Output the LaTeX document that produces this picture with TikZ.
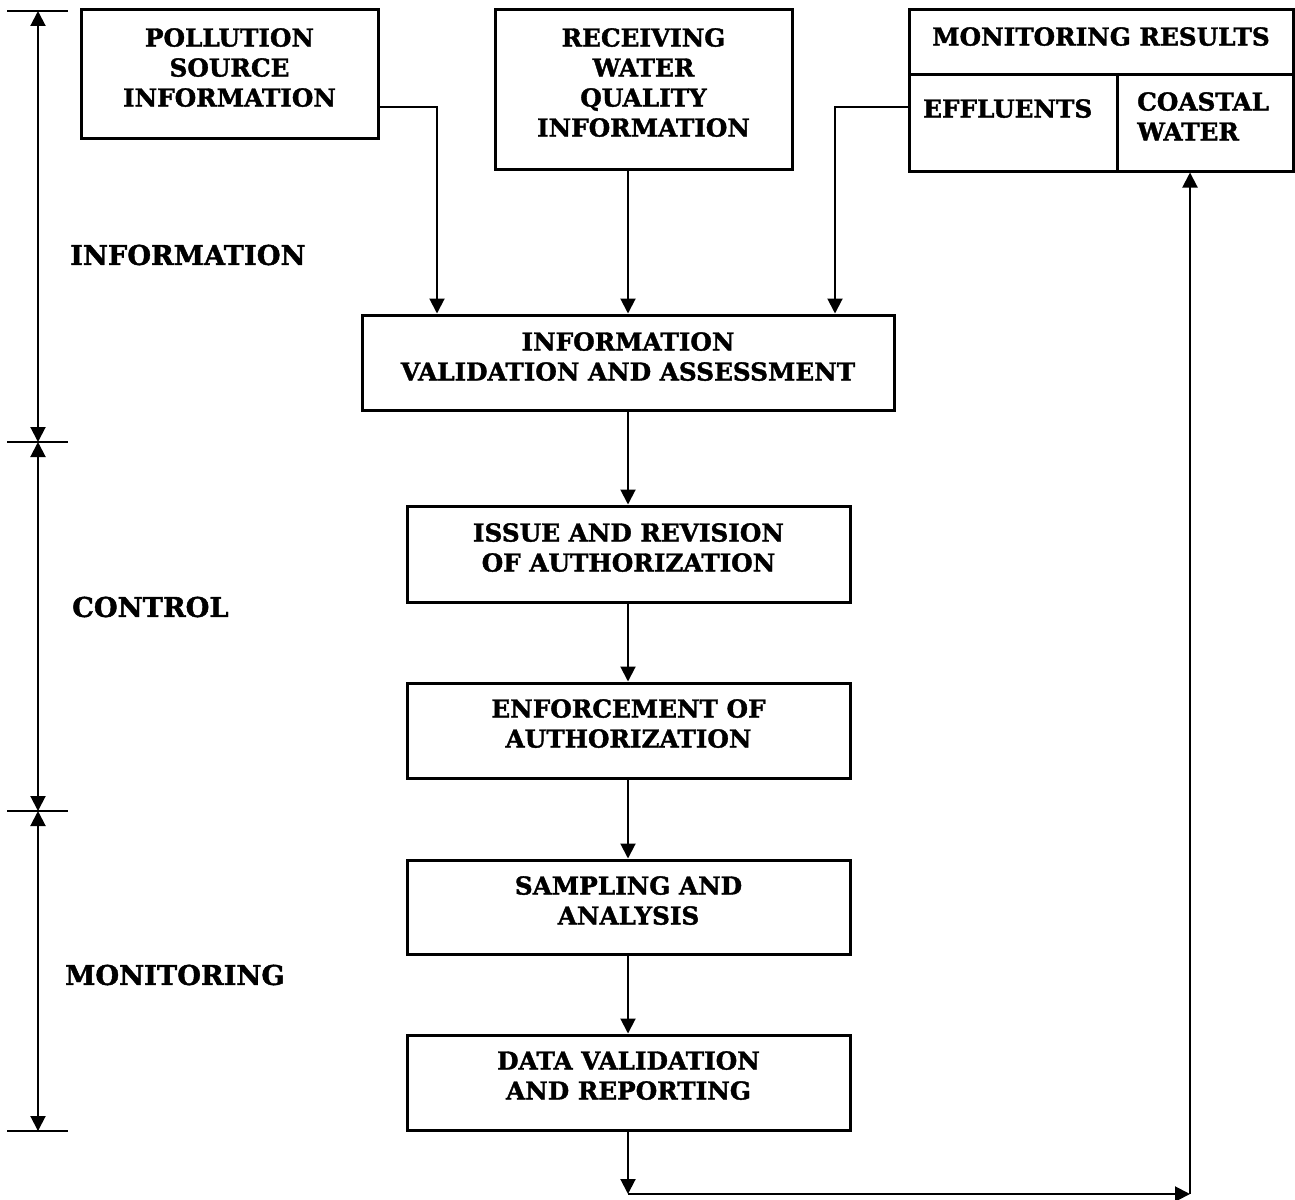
\documentclass[tikz,border=0pt]{standalone}
\usepackage{fontspec}
\setmainfont{DejaVu Serif}[BoldFeatures={FakeBold=1.5}]
\usetikzlibrary{arrows.meta}
\begin{document}
\begin{tikzpicture}[x=1pt,y=-1pt,
  txt/.style={font=\fontsize{24.7}{30}\selectfont\bfseries,inner sep=0},
  box/.style={draw,line width=3pt,inner sep=0,minimum width=#1},
  lbl/.style={txt,align=center,anchor=north},
  side/.style={txt,font=\fontsize{27.3}{30}\selectfont\bfseries,anchor=west},
  head/.style={Triangle[length=15pt,width=15pt]},
  conn/.style={line width=2pt,-{Triangle[length=15pt,width=15pt]}},
  scalebar/.style={line width=2pt,{Triangle[length=15pt,width=15pt]}-{Triangle[length=15pt,width=15pt]}},
  tick/.style={line width=2pt}]
\useasboundingbox (0,0) rectangle (1295,1199);

% left-hand phase scale
\coordinate (t0) at (38,11);
\coordinate (t1) at (38,442);
\coordinate (t2) at (38,811);
\coordinate (t3) at (38,1131);
\foreach \t in {t0,t1,t2,t3}
  \draw[tick] ([xshift=-31pt]\t) -- ([xshift=30pt]\t);
\draw[scalebar] (t0) -- (t1);
\draw[scalebar] (t1) -- (t2);
\draw[scalebar] (t2) -- (t3);
\node[side] (phinfo) at (70,255) {INFORMATION};
\node[side] (phctrl) at (72,607) {CONTROL};
\node[side] (phmon) at (65,975) {MONITORING};

% information sources
\node[box=297pt,minimum height=128pt] (poll) at (229.5,74) {};
\node[lbl] (pollt) at (229.5,28) {POLLUTION\\SOURCE\\INFORMATION};
\node[box=297pt,minimum height=159pt] (recv) at (643.5,89.5) {};
\node[lbl] (recvt) at (643.5,28) {RECEIVING\\WATER\\QUALITY\\INFORMATION};

% monitoring results table
\node[box=384pt,minimum height=64pt] (mres) at (1101,42) {};
\node[lbl] (mrest) at (1101,27) {MONITORING RESULTS};
\node[box=208pt,minimum height=97pt] (eff) at (1013,122.5) {};
\node[txt,anchor=north west] (efft) at (923,99) {EFFLUENTS};
\node[box=176pt,minimum height=97pt] (coast) at (1205,122.5) {};
\node[txt,align=left,anchor=north west] (coastt) at (1137,92) {COASTAL\\WATER};

% main chain
\node[box=532pt,minimum height=95pt] (valid) at (628,362.5) {};
\node[lbl] (validt) at (628,332) {INFORMATION\\VALIDATION AND ASSESSMENT};
\node[box=443pt,minimum height=96pt] (issue) at (628.5,554) {};
\node[lbl] (issuet) at (628.5,523) {ISSUE AND REVISION\\OF AUTHORIZATION};
\node[box=443pt,minimum height=95pt] (enf) at (628.5,730.5) {};
\node[lbl] (enft) at (628.5,699) {ENFORCEMENT OF\\AUTHORIZATION};
\node[box=443pt,minimum height=94pt] (samp) at (628.5,907) {};
\node[lbl] (sampt) at (628.5,876) {SAMPLING AND\\ANALYSIS};
\node[box=443pt,minimum height=95pt] (data) at (628.5,1082.5) {};
\node[lbl] (datat) at (628.5,1051) {DATA VALIDATION\\AND REPORTING};

% connectors
\coordinate (pc) at (437,107);
\coordinate (ec) at (835,107);
\draw[conn] (poll.east |- pc) -- (pc) -- (pc |- valid.north);
\draw[conn] (valid.north |- recv.south) -- (valid.north);
\draw[conn] (eff.west |- ec) -- (ec) -- (ec |- valid.north);
\draw[conn] (valid.south) -- (valid.south |- issue.north);
\draw[conn] (valid.south |- issue.south) -- (valid.south |- enf.north);
\draw[conn] (valid.south |- enf.south) -- (valid.south |- samp.north);
\draw[conn] (valid.south |- samp.south) -- (valid.south |- data.north);
\coordinate (bl) at (628,1194);
\coordinate (br) at (1190,1194);
\draw[conn] (bl |- data.south) -- (bl);
\draw[conn] (bl) -- (br);
\draw[conn] (br) -- (br |- coast.south);
\end{tikzpicture}
\end{document}
